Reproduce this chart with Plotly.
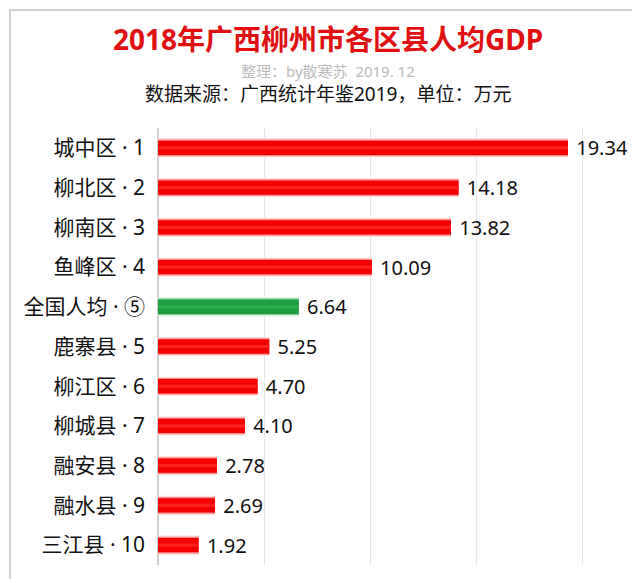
import plotly.graph_objects as go

labels = ["城中区 · 1", "柳北区 · 2", "柳南区 · 3", "鱼峰区 · 4", "全国人均 · ⑤",
          "鹿寨县 · 5", "柳江区 · 6", "柳城县 · 7", "融安县 · 8", "融水县 · 9", "三江县 · 10"]
values = [19.34, 14.18, 13.82, 10.09, 6.64, 5.25, 4.70, 4.10, 2.78, 2.69, 1.92]
value_text = ["19.34", "14.18", "13.82", "10.09", "6.64", "5.25", "4.70", "4.10", "2.78", "2.69", "1.92"]

is_nat = [l.startswith("全国") for l in labels]
# layered bars to fake the shaded (glossy) look
layers = [
    (0.48, "#ffdada", "#d2f0da"),
    (0.42, "#ff8a8a", "#7cd292"),
    (0.36, "#f40000", "#1e9e40"),
    (0.08, "#ff2020", "#2cae50"),
]

fig = go.Figure()
for i, (w, red, green) in enumerate(layers):
    fig.add_trace(go.Bar(
        y=labels, x=values, orientation="h", width=w,
        marker=dict(color=[green if n else red for n in is_nat], line=dict(width=0)),
        text=[" " + t for t in value_text] if i == 0 else None,
        textposition="outside", cliponaxis=False, constraintext="none",
        textfont=dict(size=20, color="#111111", family="Noto Sans"),
        hoverinfo="skip" if i else None, showlegend=False,
    ))

L, R, T, B = 150, 10, 120, 22
PW, PH = 640 - L - R, 579 - T - B

fig.update_layout(
    width=640, height=579, barmode="overlay",
    paper_bgcolor="white", plot_bgcolor="white",
    margin=dict(l=L, r=R, t=T, b=B),
    font=dict(family="Noto Sans, Noto Sans CJK SC", color="#111111"),
    xaxis=dict(range=[0, PW / 21.2], dtick=5, showgrid=True, gridcolor="#e6e6e6",
               showticklabels=False, zeroline=True, zerolinecolor="#d0d0d0",
               showline=False, automargin=False),
    yaxis=dict(autorange="reversed", tickfont=dict(size=21, color="#111111"),
               ticks="", ticklabelstandoff=12, showgrid=False, automargin=False),
)


def px_annot(text, py, size, color):
    fig.add_annotation(text=text, xref="paper", yref="paper",
                       x=(320 - L) / PW, y=(579 - B - py) / PH,
                       xanchor="center", yanchor="middle", showarrow=False,
                       font=dict(size=size, color=color))


px_annot("<b>2018年广西柳州市各区县人均GDP</b>", 31, 28, "#e01010")
px_annot("整理：by散寒苏  2019. 12", 63, 15, "#bbbbbb")
px_annot("数据来源：广西统计年鉴2019，单位：万元", 86, 19, "#111111")

fig.add_shape(type="rect", xref="paper", yref="paper",
              x0=(2 - L) / PW, x1=(638 - L) / PW, y0=(579 - B - 577) / PH, y1=(579 - B - 2) / PH,
              line=dict(color="#d0d0d0", width=2))

fig.write_html("out.html")
